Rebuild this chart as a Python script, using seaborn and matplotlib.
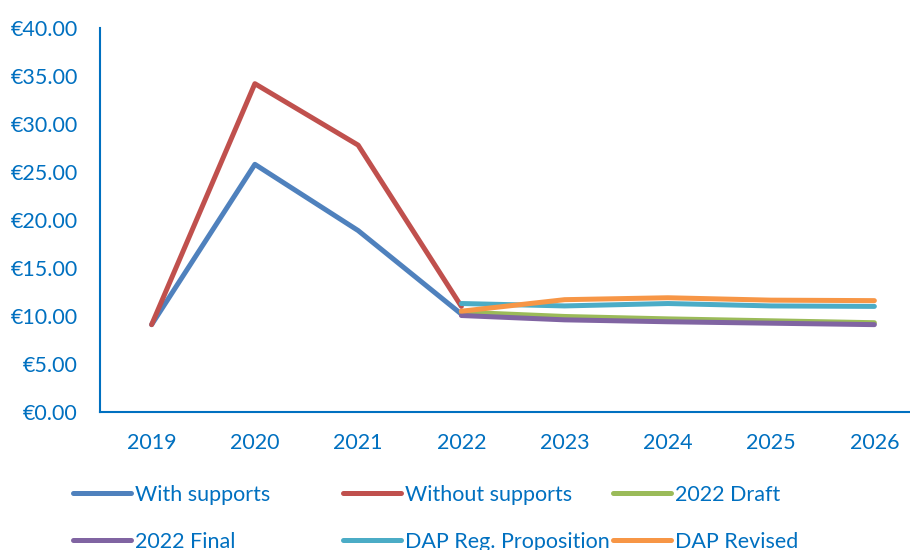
import numpy as np
import pandas as pd
import matplotlib
matplotlib.use("Agg")
import matplotlib.pyplot as plt
import seaborn as sns
from matplotlib.lines import Line2D

years = ["2019", "2020", "2021", "2022", "2023", "2024", "2025", "2026"]
with_supports = [9.1, 25.8, 18.9, 10.2, np.nan, np.nan, np.nan, np.nan]
without_supports = [9.1, 34.2, 27.8, 11.0, np.nan, np.nan, np.nan, np.nan]
draft_2022 = [np.nan, np.nan, np.nan, 10.4, 9.95, 9.7, 9.5, 9.3]
final_2022 = [np.nan, np.nan, np.nan, 10.05, 9.6, 9.4, 9.25, 9.1]
dap_reg = [np.nan, np.nan, np.nan, 11.3, 11.05, 11.3, 11.05, 11.0]
dap_revised = [np.nan, np.nan, np.nan, 10.5, 11.7, 11.9, 11.65, 11.6]

series_names = ["With supports", "Without supports", "2022 Draft",
                "2022 Final", "DAP Reg. Proposition", "DAP Revised"]
series_values = [with_supports, without_supports, draft_2022,
                 final_2022, dap_reg, dap_revised]
colors = ["#4F81BD", "#C0504D", "#9BBB59", "#8064A2", "#4BACC6", "#F79646"]
text_color = "#0070C0"

sns.set_theme(style="white")
plt.rcParams["font.family"] = ["Lato", "DejaVu Sans"]

rows = []
for name, vals in zip(series_names, series_values):
    for i, v in enumerate(vals):
        if not np.isnan(v):
            rows.append({"series": name, "x": i, "value": v})
df = pd.DataFrame(rows)

fig = plt.figure(figsize=(9.1, 5.5), dpi=100)
ax = fig.add_axes([100 / 910, (550 - 412) / 550, 826 / 910, (412 - 28) / 550])

sns.lineplot(data=df, x="x", y="value", hue="series", hue_order=series_names,
             palette=colors, linewidth=3.6, legend=False, ax=ax,
             solid_capstyle="round", solid_joinstyle="round")

fs = 15.5
ax.set_xlim(-0.5, 7.5)
ax.set_ylim(0, 40)
ax.set_xticks(range(len(years)))
ax.set_xticklabels(years)
ax.set_yticks(np.arange(0, 41, 5))
ax.set_yticklabels([f"€{v:.2f}" for v in np.arange(0, 41, 5)])
ax.set_xlabel("")
ax.set_ylabel("")
ax.tick_params(axis="both", length=0, labelsize=fs, labelcolor=text_color)
ax.tick_params(axis="y", pad=16)
ax.tick_params(axis="x", pad=15)
for s in ["top", "right"]:
    ax.spines[s].set_visible(False)
for s in ["left", "bottom"]:
    ax.spines[s].set_color(text_color)
    ax.spines[s].set_linewidth(1.5)
ax.grid(False)

# legend: three columns, each a small legend
col_x = [73 / 910, 343 / 910, 613 / 910]
for c in range(3):
    idx = [c, c + 3]
    handles = [Line2D([0], [0], color=colors[i], lw=3.6, solid_capstyle="round")
               for i in idx]
    labels = [series_names[i] for i in idx]
    leg = fig.legend(handles, labels, loc="upper left",
                     bbox_to_anchor=(col_x[c], 1 - 485 / 550),
                     frameon=False, fontsize=fs, handlelength=2.7,
                     handletextpad=0.2, labelspacing=1.25,
                     borderpad=0, borderaxespad=0)
    for t in leg.get_texts():
        t.set_color(text_color)

fig.savefig("out.png", dpi=100)
